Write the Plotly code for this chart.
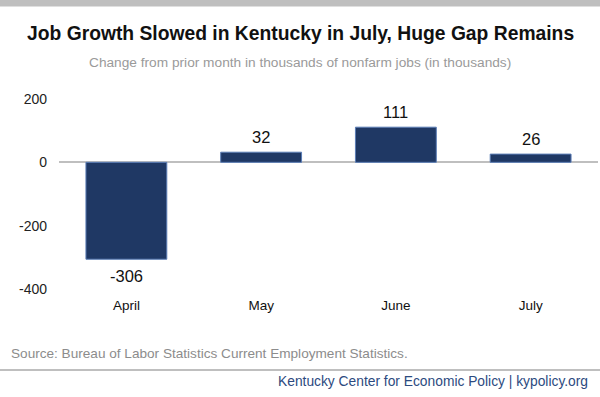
import plotly.graph_objects as go

months = ["April", "May", "June", "July"]
job_change = [-306, 32, 111, 26]
y_ticks = [-400, -200, 0, 200]
y_tick_labels = ["-400", "-200", "0", "200"]

W, H = 600, 397
ML, MR, MT, MB = 59, 2, 99, 108
FONT = "Liberation Sans, Arial"

fig = go.Figure()
fig.add_trace(go.Bar(
    x=months, y=job_change,
    marker=dict(color="#1f3864", line=dict(color="#5b7db6", width=1)),
    width=0.6,
    cliponaxis=False,
    hoverinfo="skip",
))

for m, v in zip(months, job_change):
    fig.add_annotation(
        x=m, y=v, xref="x", yref="y", text=str(v), showarrow=False,
        yanchor="bottom" if v >= 0 else "top",
        yshift=4 if v >= 0 else -6,
        font=dict(family=FONT, size=16.5, color="#111111"),
    )

PW, PH = W - ML - MR, H - MT - MB

fig.update_layout(
    width=W, height=H,
    margin=dict(l=ML, r=MR, t=MT, b=MB),
    paper_bgcolor="white", plot_bgcolor="white",
    showlegend=False,
    font=dict(family=FONT, color="#222222"),
    xaxis=dict(showgrid=False, showline=False, ticks="",
               tickfont=dict(size=13.5, color="#111111"), ticklabelstandoff=6),
    yaxis=dict(range=[-400, 200], tickvals=y_ticks, ticktext=y_tick_labels,
               showgrid=False,
               zeroline=True, zerolinecolor="#bfbfbf", zerolinewidth=2,
               showline=False, ticks="", tickfont=dict(size=14, color="#222222"),
               ticklabelstandoff=11),
    shapes=[
        dict(type="rect", xref="paper", yref="paper",
             x0=-ML / PW, x1=1 + MR / PW,
             y0=1 + MT / PH, y1=1 + (MT - 6.5) / PH,
             fillcolor="#bfbfbf", line=dict(width=0), layer="above"),
        dict(type="line", xref="paper", yref="paper",
             x0=-ML / PW, x1=1 + MR / PW,
             y0=-(370 - (H - MB)) / PH, y1=-(370 - (H - MB)) / PH,
             line=dict(color="#bfbfbf", width=2)),
    ],
)

def ann(text, x, y, size, color, xanchor="center", bold=False):
    fig.add_annotation(
        text=f"<b>{text}</b>" if bold else text,
        xref="paper", yref="paper",
        x=(x - ML) / PW, y=(H - MB - y) / PH,
        xanchor=xanchor, yanchor="middle", showarrow=False,
        font=dict(family=FONT, size=size, color=color),
    )

ann("Job Growth Slowed in Kentucky in July, Huge Gap Remains", 300, 33, 19.3, "#111111", bold=True)
ann("Change from prior month in thousands of nonfarm jobs (in thousands)", 300, 62, 13.7, "#9a9a9a")
ann("Source: Bureau of Labor Statistics Current Employment Statistics.", 9, 353, 13.6, "#8c8c8c", xanchor="left")
ann("Kentucky Center for Economic Policy | kypolicy.org", 590, 381, 13.8, "#2c4a80", xanchor="right")

fig.write_html("out.html", config={"displayModeBar": False},
               post_script="document.body.style.margin='0';")
